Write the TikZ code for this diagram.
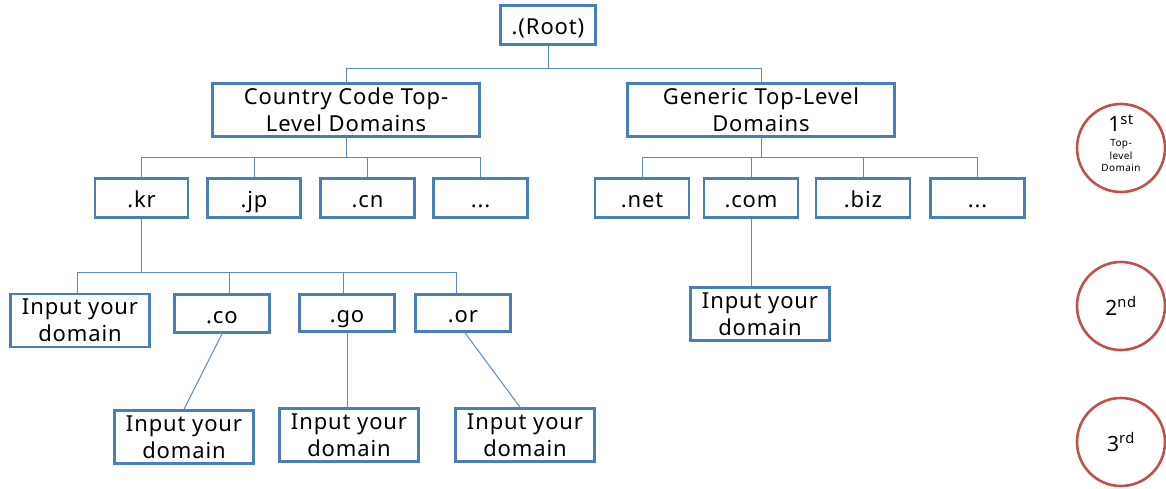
\documentclass[tikz,border=0pt]{standalone}
\usepackage{fontspec}
\setmainfont{Noto Sans}[LetterSpace=4]
\definecolor{boxblue}{HTML}{4A7EBB}
\definecolor{linkblue}{HTML}{5B8BC6}
\definecolor{ringred}{HTML}{C0504D}
\tikzset{
  dbox/.style={draw=boxblue, line width=2.6pt, fill=white, align=center,
    inner sep=0pt, font=\fontsize{22}{27}\selectfont},
  sbox/.style={dbox, text height=19pt, text depth=0pt},
  link/.style={draw=linkblue, line width=1pt},
  ring/.style={circle, draw=ringred, line width=2.6pt, minimum size=88pt,
    inner sep=0pt, align=center},
}
\begin{document}
\begin{tikzpicture}[x=1pt,y=-1pt]
\useasboundingbox (0,0) rectangle (1166,489);
\clip (0,0) rectangle (1166,489);
% bus levels
\coordinate (b0) at (0,69);
\coordinate (b1) at (0,158);
\coordinate (b2) at (0,272);

% root and top-level groups
\node[sbox, minimum width=95pt, minimum height=39pt] (root) at (548,25) {.(Root)};
\node[dbox, minimum width=267pt, minimum height=53pt] (cc) at (346,110) {Country Code Top-\\Level Domains};
\node[dbox, minimum width=267pt, minimum height=53pt] (gen) at (761,110) {Generic Top-Level\\Domains};

% country code TLDs
\node[sbox, minimum width=93pt, minimum height=39pt] (kr) at (141.5,198) {.kr};
\node[sbox, minimum width=93pt, minimum height=39pt] (jp) at (254,198) {.jp};
\node[sbox, minimum width=94pt, minimum height=39pt] (cn) at (367.5,198) {.cn};
\node[sbox, minimum width=94pt, minimum height=39pt] (ccx) at (480.5,198) {...};

% generic TLDs
\node[sbox, minimum width=94pt, minimum height=39pt] (net) at (642,198) {.net};
\node[sbox, minimum width=94pt, minimum height=39pt] (com) at (751,198) {.com};
\node[sbox, minimum width=94pt, minimum height=39pt] (biz) at (863,198) {.biz};
\node[sbox, minimum width=94pt, minimum height=39pt] (gx) at (977.5,198) {...};

% second level under .kr
\node[dbox, minimum width=139pt, minimum height=53pt] (krd) at (80,320.5) {Input your\\domain};
\node[sbox, minimum width=95pt, minimum height=38pt] (co) at (222,313.5) {.co};
\node[sbox, minimum width=95pt, minimum height=37pt] (go) at (347,313) {.go};
\node[sbox, minimum width=95pt, minimum height=37pt] (or) at (463,313) {.or};

% second level under .com
\node[dbox, minimum width=139pt, minimum height=53pt] (comd) at (760,314) {Input your\\domain};

% third level
\node[dbox, minimum width=139pt, minimum height=53pt] (cod) at (184,437) {Input your\\domain};
\node[dbox, minimum width=139pt, minimum height=53pt] (god) at (349,435) {Input your\\domain};
\node[dbox, minimum width=139pt, minimum height=53pt] (ord) at (525,435) {Input your\\domain};

% connectors
\draw[link] (root.south) -- (root.south |- b0);
\draw[link] (cc.north) |- (gen.north |- b0) -- (gen.north);

\draw[link] (cc.south) -- (cc.south |- b1);
\draw[link] (kr.north) |- (ccx.north |- b1) -- (ccx.north);
\draw[link] (jp.north) -- (jp.north |- b1);
\draw[link] (cn.north) -- (cn.north |- b1);

\draw[link] (gen.south) -- (gen.south |- b1);
\draw[link] (net.north) |- (gx.north |- b1) -- (gx.north);
\draw[link] (com.north) -- (com.north |- b1);
\draw[link] (biz.north) -- (biz.north |- b1);

\draw[link] (kr.south) -- (kr.south |- b2);
\draw[link] ([xshift=-3pt]krd.north) |- ([xshift=-7pt]or.north |- b2) -- ([xshift=-7pt]or.north);
\draw[link] ([xshift=7pt]co.north) -- ([xshift=7pt]co.north |- b2);
\draw[link] ([xshift=-4pt]go.north) -- ([xshift=-4pt]go.north |- b2);

\draw[link] (com.south) -- (com.south |- comd.north);
\draw[link] (co.south) -- (cod.north);
\draw[link] (go.south) -- (go.south |- god.north);
\draw[link] ([xshift=2pt]or.south) -- ([xshift=-5pt]ord.north);

% level markers
\node[ring] (r1) at (1121,148) {};
\node[font=\fontsize{21}{24}\selectfont, anchor=base] (r1t) at (1121,132) {1\textsuperscript{st}};
\node[font=\fontsize{10}{12.5}\selectfont, align=center, anchor=north] (r1s) at (1121,136) {Top-\\level\\Domain};
\node[ring, font=\fontsize{21}{24}\selectfont] (r2) at (1121,306) {2\textsuperscript{nd}};
\node[ring, font=\fontsize{21}{24}\selectfont] (r3) at (1121,442) {3\textsuperscript{rd}};
\end{tikzpicture}
\end{document}
